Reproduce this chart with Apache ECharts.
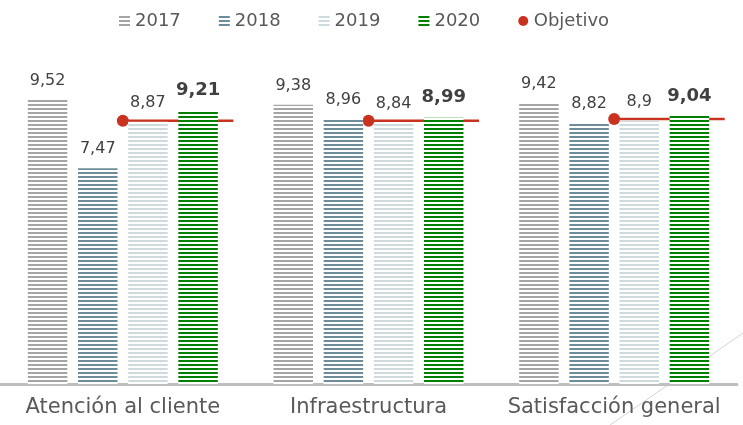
<!DOCTYPE html>
<html>
<head>
<meta charset="utf-8">
<script src="https://cdn.jsdelivr.net/npm/echarts@6/dist/echarts.min.js"></script>
<style>
  html, body { margin: 0; padding: 0; background: #fff; }
  #chart { width: 743px; height: 425px; }
</style>
</head>
<body>
<div id="chart"></div>
<script>
const categories = ['Atención al cliente', 'Infraestructura', 'Satisfacción general'];
const years = ['2017', '2018', '2019', '2020'];
const values2017 = [9.52, 9.38, 9.42];
const values2018 = [7.47, 8.96, 8.82];
const values2019 = [8.87, 8.84, 8.9];
const values2020 = [9.21, 8.99, 9.04];
const objetivo = [8.9, 8.9, 8.95];

const yearColors = ['#a5a5a5', '#6f8c9b', '#cfdade', '#008000'];
const goalColor = '#c8321e';
const font = '"DejaVu Sans", Verdana, sans-serif';

// horizontal stripes, 2px colour / 2px white
function stripes(color) {
  const c = document.createElement('canvas');
  c.width = 4;
  c.height = 4;
  const ctx = c.getContext('2d');
  ctx.fillStyle = '#ffffff';
  ctx.fillRect(0, 0, 4, 4);
  ctx.fillStyle = color;
  ctx.fillRect(0, 0, 4, 2);
  return { image: c, repeat: 'repeat' };
}

const fmt = v => String(v).replace('.', ',');

const barSeries = [values2017, values2018, values2019, values2020].map((data, i) => {
  const last = i === 3;
  return {
    name: years[i],
    type: 'bar',
    data: data,
    barWidth: 39.5,
    barGap: '27%',
    itemStyle: { color: stripes(yearColors[i]) },
    label: {
      show: true,
      position: 'top',
      distance: 11,
      color: '#404040',
      fontFamily: font,
      fontSize: last ? 18 : 16,
      fontWeight: last ? 'bold' : 'normal',
      formatter: p => fmt(p.value)
    }
  };
});

const goalSeries = {
  name: 'Objetivo',
  type: 'custom',
  data: objetivo.map((v, i) => [i, v]),
  itemStyle: { color: goalColor },
  renderItem: (params, api) => {
    const p = api.coord([api.value(0), api.value(1)]);
    const w = api.size([1, 0])[0];
    return {
      type: 'group',
      children: [
        {
          type: 'line',
          shape: { x1: p[0], y1: p[1], x2: p[0] + w * 0.45, y2: p[1] },
          style: { stroke: goalColor, lineWidth: 2.5 }
        },
        {
          type: 'circle',
          shape: { cx: p[0], cy: p[1], r: 6 },
          style: { fill: goalColor }
        }
      ]
    };
  }
};

const chart = echarts.init(document.getElementById('chart'));
chart.setOption({
  animation: false,
  legend: {
    top: 7,
    left: 114,
    itemWidth: 11,
    itemHeight: 10,
    itemGap: 38,
    textStyle: { color: '#595959', fontFamily: font, fontSize: 18 },
    data: years.map(y => ({ name: y, icon: 'rect' })).concat([{ name: 'Objetivo', icon: 'circle' }])
  },
  grid: { left: 0, right: 6, top: 84, bottom: 41 },
  xAxis: {
    type: 'category',
    data: categories,
    axisLine: { lineStyle: { color: '#bfbfbf', width: 3 } },
    axisTick: { show: false },
    axisLabel: { interval: 0, color: '#595959', fontFamily: font, fontSize: 21, margin: 13 }
  },
  yAxis: {
    type: 'value',
    min: 1,
    max: 10,
    show: false,
    splitLine: { show: false }
  },
  graphic: [
    {
      type: 'line',
      z: -1,
      shape: { x1: 610, y1: 425, x2: 743, y2: 333 },
      style: { stroke: '#d4d4d4', lineWidth: 1 }
    }
  ],
  series: barSeries.concat([goalSeries])
});
</script>
</body>
</html>
